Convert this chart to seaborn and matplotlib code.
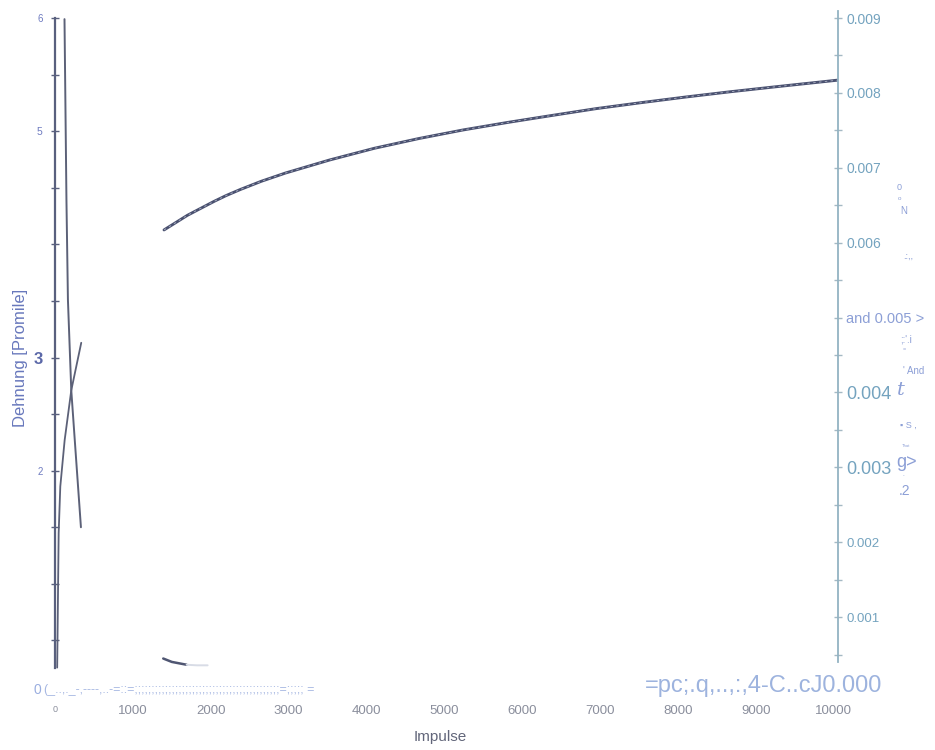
import numpy as np
import pandas as pd
import matplotlib
matplotlib.use("Agg")
import matplotlib.pyplot as plt
import seaborn as sns

sns.set_theme(style="white")
plt.rcParams['font.family'] = ['Liberation Sans', 'DejaVu Sans']

# Long-term strain curve (right axis, absolute strain)
long_impulse = [1400, 1500, 1600, 1700, 1810, 2050, 2200, 2380, 2650, 2960,
                3530, 4100, 4670, 5240, 5810, 6390, 6950, 7530, 8100, 8670,
                9240, 10050]
long_strain = [0.006170, 0.006235, 0.006300, 0.006365, 0.006425, 0.006555,
               0.006630, 0.006710, 0.006820, 0.006930, 0.007105, 0.007260,
               0.007390, 0.007505, 0.007605, 0.007700, 0.007790, 0.007870,
               0.007945, 0.008015, 0.008080, 0.008170]

# Early-phase strain in per mille (left axis)
fall_impulse = [122, 147, 166, 209, 260, 333]
fall_strain = [5.99, 4.39, 3.51, 2.71, 2.21, 1.50]
rise_impulse = [28, 32, 47, 68, 124, 209, 337]
rise_strain = [0.26, 0.50, 1.45, 1.86, 2.27, 2.71, 3.13]
tail_impulse = [1390, 1500, 1690]
tail_strain = [0.34, 0.31, 0.285]
tail_faint_impulse = [1690, 1820, 1960]
tail_faint_strain = [0.285, 0.28, 0.28]

x_ticks = [0, 1000, 2000, 3000, 4000, 5000, 6000, 7000, 8000, 9000, 10000]
x_labels = ["0", "1000", "2000", "3000", "4000", "5000", "6000", "7000",
            "8000", "9000", "10000"]
left_ticks = [0.5, 1.0, 1.5, 2.0, 2.5, 3.0, 3.5, 4.0, 4.5, 5.0, 5.5, 6.0]
left_labels = ["", "", "", "2", "", "3", "", "", "", "5", "", "6"]
left_sizes = [7, 7, 7, 7, 7, 12, 7, 7, 7, 7.5, 7, 7]
right_ticks = [0.0005, 0.001, 0.0015, 0.002, 0.0025, 0.003, 0.0035, 0.004,
               0.0045, 0.005, 0.0055, 0.006, 0.0065, 0.007, 0.0075, 0.008,
               0.0085, 0.009]
right_labels = ["", "0.001", "", "0.002", "", "0.003", "", "0.004", "",
                "and 0.005 >", "", "0.006", "", "0.007", "", "0.008", "",
                "0.009"]
right_sizes = [9, 9.5, 9, 9.5, 9, 13, 9, 13, 9, 10.5, 9, 10, 9, 10, 9, 10,
               9, 10]

LINE = "#4a5170"
LEFT_AX = "#59607e"
RIGHT_AX = "#93b3c3"
TEAL = "#74a3bf"
LILAC = "#8c9fd6"
GREY = "#8a8e9c"

W, H = 935, 750
fig = plt.figure(figsize=(W / 100, H / 100), dpi=100)
ax = fig.add_axes([55 / W, 1 - 697 / H, (838 - 55) / W, (697 - 18) / H])
ax2 = ax.twinx()

long_df = pd.DataFrame({"impulse": long_impulse, "strain": long_strain})
sns.lineplot(data=long_df, x="impulse", y="strain", ax=ax2, color=LINE,
             lw=2.1, estimator=None, sort=False)
# light hatch-like stripes along the curve
sns.lineplot(data=long_df, x="impulse", y="strain", ax=ax2, color="#c9cedd",
             lw=0.7, estimator=None, sort=False, dashes=False,
             linestyle=(0, (2.5, 3.5)), alpha=0.7)
for xs, ys, col, lw in [(fall_impulse, fall_strain, "#5c6178", 1.4),
                        (rise_impulse, rise_strain, "#5c6178", 1.3),
                        (tail_impulse, tail_strain, "#4f5672", 1.8),
                        (tail_faint_impulse, tail_faint_strain, "#d8dce6", 1.4)]:
    df = pd.DataFrame({"impulse": xs, "strain": ys})
    sns.lineplot(data=df, x="impulse", y="strain", ax=ax, color=col, lw=lw,
                 estimator=None, sort=False)

ax.set_xlim(26, 10055)
ax.set_ylim(0, 6)
ax2.set_ylim(-0.0000668, 0.009)

for s in ("top", "right", "bottom"):
    ax.spines[s].set_visible(False)
for s in ("top", "left", "bottom"):
    ax2.spines[s].set_visible(False)
ax.spines["left"].set_color(LEFT_AX)
ax.spines["left"].set_linewidth(1.6)
ax.spines["left"].set_bounds(0.26, 6.0)
ax2.spines["right"].set_color(RIGHT_AX)
ax2.spines["right"].set_linewidth(1.3)
ax2.spines["right"].set_bounds(0.0004, 0.0091)

# x axis: labels only
ax.set_xticks(x_ticks)
ax.set_xticklabels(x_labels)
ax.tick_params(axis="x", length=0, pad=6, labelsize=9.5, labelcolor=GREY)
xl = ax.get_xticklabels()
xl[0].set_fontsize(6.5)
ax.set_xlabel("Impulse", fontsize=11, color="#62667a")
ax.xaxis.set_label_coords((440 - 55) / (838 - 55), -(737 - 697) / (697 - 18))
ax.xaxis.label.set_va("center")

# left axis
ax.set_yticks(left_ticks)
ax.set_yticklabels(left_labels)
ax.tick_params(axis="y", direction="inout", length=6, width=1, color=LEFT_AX,
               pad=6, labelcolor="#6e7bc0")
for lab, sz in zip(ax.get_yticklabels(), left_sizes):
    lab.set_fontsize(sz)
    if lab.get_text() == "3":
        lab.set_fontweight("bold")
        lab.set_color("#5b68a8")
ax.set_ylabel("Dehnung [Promile]", fontsize=12, color="#6878bc")
ax.yaxis.set_label_coords(-(55 - 21) / (838 - 55), (697 - 358) / (697 - 18))
ax.yaxis.label.set_va("center")

# right axis
ax2.set_yticks(right_ticks)
ax2.set_yticklabels(right_labels)
ax2.tick_params(axis="y", direction="inout", length=6, width=1,
                color="#a5b9c4", pad=3, labelcolor=TEAL)
for lab, sz in zip(ax2.get_yticklabels(), right_sizes):
    lab.set_fontsize(sz)
    if lab.get_text().startswith("and"):
        lab.set_color(LILAC)
ax2.set_ylabel("")
ax.grid(False)
ax2.grid(False)


def ftext(px, py, s, size, color=LILAC, ha="left", **kw):
    fig.text(px / W, 1 - py / H, s, fontsize=size, color=color, ha=ha,
             va="center", **kw)


# scattered characters beside the right axis
ftext(897, 187, "0", 6.5)
ftext(898, 198, "o", 4.5)
ftext(900, 211, "N", 7)
ftext(903, 256, ".:,,", 6.5)
ftext(900, 340, ";:'.i", 7)
ftext(903, 350, "=", 4)
ftext(903, 371, "' And", 7)
ftext(897, 390, "t", 14, style="italic", family="DejaVu Serif")
ftext(900, 425, "▪ S ,", 6.5)
ftext(902, 446, "That", 3)
ftext(896, 463, "g>", 13)
ftext(903, 477, "`", 4)
ftext(899, 491, ".2", 10)

# characters along the bottom edge
ftext(33, 690, "0", 10, color="#9aaee0")
ftext(44, 690, "(_..,._-,----,..-=::=;;;;;;;;;;;;;;;;;;;;;;;;;;;;;;;;;;;;;;;;;;;=;;;;; =",
      9, color="#a6b7e2")
ftext(645, 686, "=pc;.q,..,:,4-C..cJ0.000", 17, color="#9db3de")

fig.savefig("out.png", dpi=100)
